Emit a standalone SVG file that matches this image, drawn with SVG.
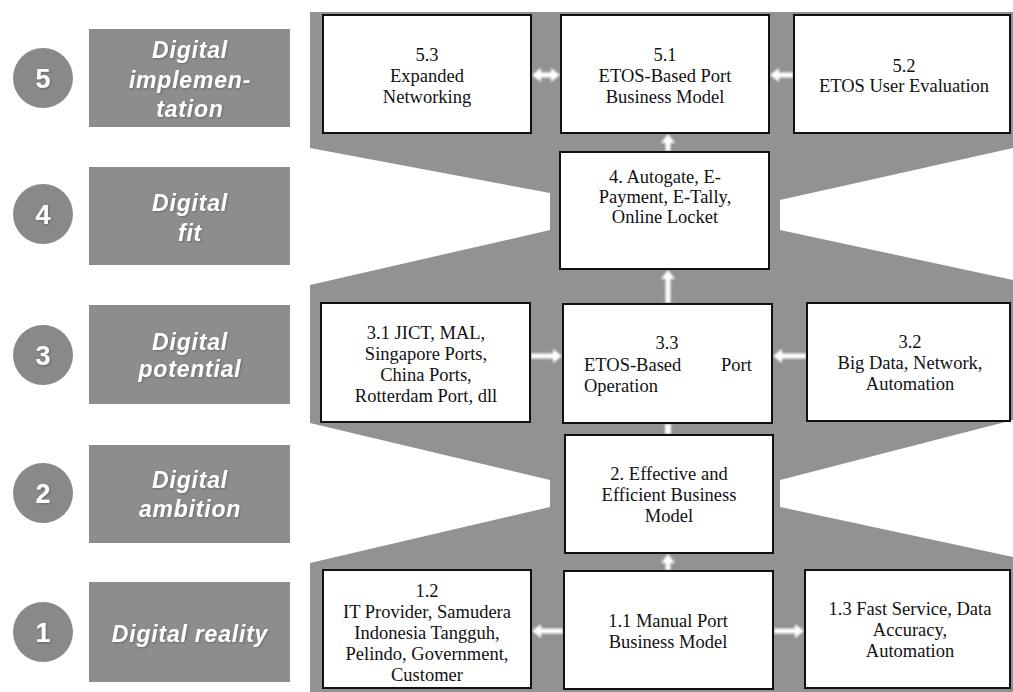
<svg xmlns="http://www.w3.org/2000/svg" width="1013" height="692" viewBox="0 0 1013 692">
  <defs>
    <style>
      .band { fill: #929292; }
      .stage { fill: #8d8d8d; }
      .badge { fill: #898989; }
      .stage-text { font-family: "Liberation Sans", Arial, sans-serif; font-size: 23px; font-weight: bold; font-style: italic; fill: #ffffff; text-anchor: middle; letter-spacing: 0.8px; }
      .badge-text { font-family: "Liberation Sans", Arial, sans-serif; font-size: 27px; font-weight: bold; fill: #ffffff; text-anchor: middle; }
      .box { fill: #ffffff; stroke: #111111; stroke-width: 2; }
      .label { font-family: "Liberation Serif", "Times New Roman", serif; font-size: 18.5px; fill: #111111; text-anchor: middle; }
      .label-left { text-anchor: start; }
      .arrow { fill: #ffffff; }
    </style>
    <filter id="soft" x="-20%" y="-20%" width="140%" height="140%">
      <feGaussianBlur stdDeviation="0.8"/>
    </filter>
    <filter id="shade" x="-10%" y="-20%" width="120%" height="140%">
      <feDropShadow dx="1" dy="1" stdDeviation="0.8" flood-color="#505050" flood-opacity="0.6"/>
    </filter>
  </defs>

  <rect width="1013" height="692" fill="#ffffff"/>

  <!-- grey backdrop: funnel shape with notches between stages -->
  <path class="band" d="M310,12 L1013,12 L1013,148 L780,200 L780,230 L1013,280 L1013,420 L780,480 L780,507 L1013,557 L1013,692 L310,692 L310,563 L550,507 L550,480 L310,423 L310,285 L550,230 L550,193 L310,148 Z"/>

  <!-- stage labels on the left -->
  <g id="stage-5">
    <circle class="badge" cx="43" cy="78" r="30"/>
    <text class="badge-text" x="43" y="88" filter="url(#shade)">5</text>
    <rect class="stage" x="89" y="29" width="201" height="98"/>
    <text class="stage-text" filter="url(#shade)"><tspan x="190" y="58">Digital</tspan><tspan x="190" y="88">implemen-</tspan><tspan x="190" y="117">tation</tspan></text>
  </g>
  <g id="stage-4">
    <circle class="badge" cx="43" cy="214" r="30"/>
    <text class="badge-text" x="43" y="224" filter="url(#shade)">4</text>
    <rect class="stage" x="89" y="167" width="201" height="98"/>
    <text class="stage-text" filter="url(#shade)"><tspan x="190" y="211">Digital</tspan><tspan x="190" y="241">fit</tspan></text>
  </g>
  <g id="stage-3">
    <circle class="badge" cx="43" cy="355" r="30"/>
    <text class="badge-text" x="43" y="365" filter="url(#shade)">3</text>
    <rect class="stage" x="89" y="305" width="201" height="99"/>
    <text class="stage-text" filter="url(#shade)"><tspan x="190" y="350">Digital</tspan><tspan x="190" y="377">potential</tspan></text>
  </g>
  <g id="stage-2">
    <circle class="badge" cx="43" cy="493" r="30"/>
    <text class="badge-text" x="43" y="503" filter="url(#shade)">2</text>
    <rect class="stage" x="89" y="445" width="201" height="98"/>
    <text class="stage-text" filter="url(#shade)"><tspan x="190" y="488">Digital</tspan><tspan x="190" y="517">ambition</tspan></text>
  </g>
  <g id="stage-1">
    <circle class="badge" cx="43" cy="632" r="30"/>
    <text class="badge-text" x="43" y="642" filter="url(#shade)">1</text>
    <rect class="stage" x="89" y="582" width="201" height="100"/>
    <text class="stage-text" x="190" y="642" filter="url(#shade)">Digital reality</text>
  </g>

  <!-- connectors -->
  <g id="connectors" filter="url(#soft)">
    <!-- 5.3 <-> 5.1 -->
    <path class="arrow" d="M532,75 L541,68 V72.5 H551 V68 L560,75 L551,82 V77.5 H541 V82 Z"/>
    <!-- 5.2 -> 5.1 -->
    <path class="arrow" d="M793,72.5 H779 V68 L770,75 L779,82 V77.5 H793 Z"/>
    <!-- 4 -> 5.1 -->
    <path class="arrow" d="M665.5,151 V143 H661 L668,134 L675,143 H670.5 V151 Z"/>
    <!-- 3.3 -> 4 -->
    <path class="arrow" d="M665.5,303 V279 H661 L668,270 L675,279 H670.5 V303 Z"/>
    <!-- 2 -> 3.3 -->
    <path class="arrow" d="M665,434 V424 H671 V434 Z"/>
    <!-- 1.1 -> 2 -->
    <path class="arrow" d="M665.5,570 V563 H661 L668,554 L675,563 H670.5 V570 Z"/>
    <!-- 3.1 -> 3.3 -->
    <path class="arrow" d="M531,353.5 H553 V349 L562,356 L553,363 V358.5 H531 Z"/>
    <!-- 3.2 -> 3.3 -->
    <path class="arrow" d="M806,353.5 H782 V349 L773,356 L782,363 V358.5 H806 Z"/>
    <!-- 1.1 -> 1.2 -->
    <path class="arrow" d="M563,628.5 H541 V624 L532,631 L541,638 V633.5 H563 Z"/>
    <!-- 1.1 -> 1.3 -->
    <path class="arrow" d="M774,628.5 H795 V624 L804,631 L795,638 V633.5 H774 Z"/>
  </g>

  <!-- level 5 -->
  <g id="node-5-3">
    <rect class="box" x="323" y="15" width="208" height="118"/>
    <text class="label"><tspan x="427" y="61">5.3</tspan><tspan x="427" y="82">Expanded</tspan><tspan x="427" y="103">Networking</tspan></text>
  </g>
  <g id="node-5-1">
    <rect class="box" x="561" y="15" width="208" height="118"/>
    <text class="label"><tspan x="665" y="61">5.1</tspan><tspan x="665" y="82">ETOS-Based Port</tspan><tspan x="665" y="103">Business Model</tspan></text>
  </g>
  <g id="node-5-2">
    <rect class="box" x="794" y="15" width="216" height="118"/>
    <text class="label"><tspan x="904" y="72">5.2</tspan><tspan x="904" y="92">ETOS User Evaluation</tspan></text>
  </g>

  <!-- level 4 -->
  <g id="node-4">
    <rect class="box" x="560" y="152" width="209" height="117"/>
    <text class="label"><tspan x="665" y="183">4. Autogate, E-</tspan><tspan x="665" y="203">Payment, E-Tally,</tspan><tspan x="665" y="223">Online Locket</tspan></text>
  </g>

  <!-- level 3 -->
  <g id="node-3-1">
    <rect class="box" x="321" y="303" width="209" height="119"/>
    <text class="label"><tspan x="426" y="339">3.1 JICT, MAL,</tspan><tspan x="426" y="360">Singapore Ports,</tspan><tspan x="426" y="381">China Ports,</tspan><tspan x="426" y="402">Rotterdam Port, dll</tspan></text>
  </g>
  <g id="node-3-3">
    <rect class="box" x="563" y="304" width="209" height="119"/>
    <text class="label"><tspan x="667" y="349">3.3</tspan></text>
    <text class="label label-left"><tspan x="584" y="371">ETOS-Based</tspan><tspan x="721" y="371">Port</tspan><tspan x="584" y="392">Operation</tspan></text>
  </g>
  <g id="node-3-2">
    <rect class="box" x="807" y="303" width="203" height="118"/>
    <text class="label"><tspan x="910" y="348">3.2</tspan><tspan x="910" y="369">Big Data, Network,</tspan><tspan x="910" y="390">Automation</tspan></text>
  </g>

  <!-- level 2 -->
  <g id="node-2">
    <rect class="box" x="565" y="435" width="208" height="118"/>
    <text class="label"><tspan x="669" y="480">2. Effective and</tspan><tspan x="669" y="501">Efficient Business</tspan><tspan x="669" y="522">Model</tspan></text>
  </g>

  <!-- level 1 -->
  <g id="node-1-2">
    <rect class="box" x="323" y="570" width="208" height="118"/>
    <text class="label"><tspan x="427" y="597">1.2</tspan><tspan x="427" y="618">IT Provider, Samudera</tspan><tspan x="427" y="639">Indonesia Tangguh,</tspan><tspan x="427" y="660">Pelindo, Government,</tspan><tspan x="427" y="681">Customer</tspan></text>
  </g>
  <g id="node-1-1">
    <rect class="box" x="564" y="571" width="209" height="118"/>
    <text class="label"><tspan x="668" y="627">1.1 Manual Port</tspan><tspan x="668" y="648">Business Model</tspan></text>
  </g>
  <g id="node-1-3">
    <rect class="box" x="805" y="570" width="205" height="118"/>
    <text class="label"><tspan x="910" y="615">1.3 Fast Service, Data</tspan><tspan x="910" y="636">Accuracy,</tspan><tspan x="910" y="657">Automation</tspan></text>
  </g>
</svg>
